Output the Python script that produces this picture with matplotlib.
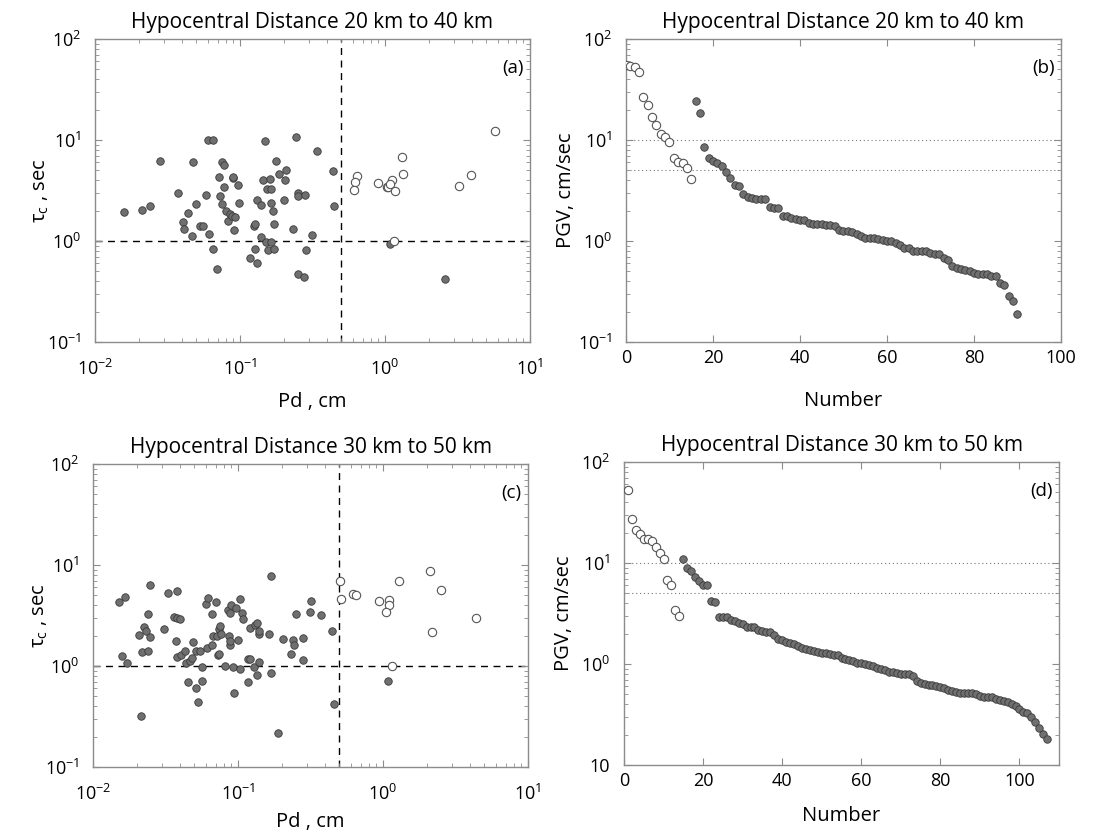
import numpy as np
import matplotlib
matplotlib.use('Agg')
import matplotlib.pyplot as plt
from matplotlib.ticker import LogLocator, NullFormatter, MultipleLocator

plt.rcParams['font.family'] = ['Open Sans', 'DejaVu Sans']
plt.rcParams['mathtext.fontset'] = 'custom'
plt.rcParams['mathtext.rm'] = 'Open Sans'
plt.rcParams['mathtext.it'] = 'Open Sans:italic'

# ---- data ----
# (a) 20-40 km : Pd (cm) vs tau_c (sec)
a_fill_pd = [0.0158, 0.0210, 0.0238, 0.0281, 0.0376, 0.0407, 0.0413, 0.0440, 0.0469, 0.0472,
             0.0497, 0.0527, 0.0558, 0.0586, 0.0598, 0.0611, 0.0648, 0.0651, 0.0694, 0.0720,
             0.0732, 0.0751, 0.0751, 0.0771, 0.0776, 0.0805, 0.0822, 0.0858, 0.0877, 0.0890,
             0.0899, 0.0904, 0.0924, 0.0968, 0.0984, 0.118, 0.124, 0.126, 0.127, 0.130,
             0.131, 0.140, 0.140, 0.143, 0.148, 0.150, 0.153, 0.155, 0.162, 0.163,
             0.164, 0.164, 0.168, 0.171, 0.172, 0.178, 0.187, 0.202, 0.204, 0.209,
             0.233, 0.243, 0.250, 0.250, 0.250, 0.341, 0.438, 0.282, 0.445, 0.312,
             0.284, 0.275, 1.08, 2.58]
a_fill_tc = [1.95, 2.03, 2.20, 6.24, 2.96, 1.54, 1.31, 1.88, 1.12, 6.01,
             2.31, 1.41, 1.41, 2.88, 9.93, 1.18, 0.84, 10.0, 0.532, 4.30,
             2.81, 6.01, 2.34, 3.40, 5.61, 1.97, 1.59, 1.84, 1.75, 4.17,
             4.30, 1.28, 1.74, 3.61, 2.40, 0.679, 1.40, 1.47, 0.84, 0.601,
             2.55, 2.25, 1.10, 4.02, 9.77, 0.977, 3.27, 0.814, 4.14, 0.977,
             3.27, 2.38, 1.98, 0.84, 1.47, 6.24, 4.57, 2.53, 4.05, 5.08,
             1.31, 10.6, 2.96, 2.81, 0.475, 7.78, 4.93, 2.88, 2.22, 1.16,
             0.814, 0.437, 0.941, 0.417]
a_open_pd = [0.644, 0.618, 0.615, 0.895, 1.04, 1.05, 1.11, 1.09, 1.18, 1.31,
             1.33, 1.16, 3.24, 3.94, 5.77]
a_open_tc = [4.40, 3.81, 3.17, 3.72, 3.40, 3.45, 4.05, 3.67, 3.10, 6.79,
             4.64, 1.01, 3.48, 4.47, 12.3]

# (b) 20-40 km : PGV (cm/sec), sorted, open first then filled
b_open_pgv = [55.9, 54.7, 52.6, 47.0, 26.9, 22.3, 17.1, 14.2, 11.5, 10.6,
              9.6, 6.7, 6.1, 5.9, 5.3, 4.07]
b_fill_pgv = [24.5, 18.7, 8.53, 6.60, 6.26, 5.98, 5.59, 4.88, 4.20, 3.61,
              3.53, 2.90, 2.75, 2.69, 2.63, 2.59, 2.59, 2.16, 2.13, 2.13,
              1.775, 1.775, 1.71, 1.66, 1.63, 1.60, 1.50, 1.49, 1.48, 1.48,
              1.45, 1.43, 1.41, 1.30, 1.27, 1.25, 1.24, 1.18, 1.11, 1.07,
              1.07, 1.06, 1.05, 1.02, 1.01, 1.01, 0.948, 0.913, 0.853, 0.853,
              0.797, 0.791, 0.791, 0.790, 0.768, 0.750, 0.745, 0.680, 0.655, 0.560,
              0.535, 0.523, 0.511, 0.507, 0.484, 0.470, 0.470, 0.470, 0.453, 0.449,
              0.383, 0.364, 0.286, 0.253, 0.190]

# (c) 30-50 km : Pd (cm) vs tau_c (sec)
c_fill_pd = [0.0152, 0.0158, 0.0165, 0.0171, 0.0208, 0.0215, 0.0217, 0.0225, 0.0233, 0.0238,
             0.0239, 0.0247, 0.0248, 0.0309, 0.0327, 0.0364, 0.0376, 0.0380, 0.0380, 0.0382,
             0.0400, 0.0405, 0.0429, 0.0436, 0.0450, 0.0464, 0.0484, 0.0492, 0.0513, 0.0516,
             0.0527, 0.0550, 0.0561, 0.0561, 0.0598, 0.0615, 0.0624, 0.0658, 0.0665, 0.0668,
             0.0709, 0.0720, 0.0724, 0.0736, 0.0744, 0.0751, 0.0767, 0.0809, 0.0858, 0.0862,
             0.0877, 0.0881, 0.0885, 0.0890, 0.0924, 0.0933, 0.0964, 0.0995, 0.103, 0.103,
             0.107, 0.109, 0.117, 0.117, 0.120, 0.120, 0.128, 0.130, 0.136, 0.136,
             0.139, 0.139, 0.140, 0.164, 0.168, 0.169, 0.189, 0.203, 0.231, 0.239,
             0.242, 0.252, 0.279, 0.279, 0.319, 0.312, 0.372, 0.443, 0.457, 1.09]
c_fill_tc = [4.27, 1.27, 4.82, 1.07, 2.03, 0.322, 1.39, 2.43, 2.20, 3.25,
             1.41, 6.34, 1.92, 2.34, 5.32, 3.08, 1.78, 5.53, 2.99, 1.22,
             2.90, 1.29, 1.42, 1.08, 0.689, 1.11, 1.21, 1.73, 1.41, 0.610,
             0.440, 1.41, 0.970, 0.705, 4.11, 1.51, 4.71, 3.27, 1.63, 1.98,
             4.30, 2.00, 1.29, 1.32, 2.34, 2.51, 2.09, 0.99, 3.59, 2.00,
             3.32, 1.61, 1.77, 4.02, 0.977, 0.540, 3.75, 1.82, 0.934, 4.61,
             3.32, 2.90, 0.689, 1.18, 1.18, 2.40, 0.985, 2.55, 2.67, 0.821,
             2.06, 1.10, 2.22, 2.06, 7.78, 0.846, 0.217, 1.87, 1.32, 1.82,
             1.61, 3.25, 1.91, 1.16, 4.43, 3.40, 3.17, 2.24, 0.424, 0.716]
c_open_pd = [0.502, 0.511, 0.621, 0.655, 0.944, 1.10, 1.10, 1.05, 1.15, 1.29,
             2.10, 2.50, 2.19, 4.36]
c_open_tc = [6.95, 4.57, 5.12, 5.08, 4.40, 4.54, 4.05, 3.43, 1.01, 6.89,
             8.72, 5.65, 2.15, 3.01]

# (d) 30-50 km : PGV (cm/sec)
d_open_pgv = [53.2, 27.3, 21.4, 19.2, 17.4, 17.4, 16.5, 14.4, 12.6, 11.0,
              6.79, 6.01, 3.45, 3.01]
d_fill_pgv = [10.9, 9.0, 8.4, 7.3, 6.6, 6.0, 6.0, 4.17, 4.11, 2.94,
              2.94, 2.90, 2.75, 2.67, 2.53, 2.47, 2.34, 2.34, 2.32, 2.15,
              2.12, 2.07, 2.06, 1.94, 1.78, 1.71, 1.65, 1.60, 1.57, 1.50,
              1.43, 1.41, 1.37, 1.35, 1.32, 1.29, 1.29, 1.25, 1.24, 1.24,
              1.15, 1.13, 1.10, 1.06, 1.03, 1.015, 1.00, 0.977, 0.948, 0.906,
              0.885, 0.866, 0.839, 0.839, 0.821, 0.802, 0.790, 0.790, 0.755, 0.679,
              0.644, 0.629, 0.620, 0.620, 0.610, 0.597, 0.574, 0.557, 0.545, 0.532,
              0.520, 0.520, 0.516, 0.513, 0.501, 0.486, 0.475, 0.468, 0.468, 0.454,
              0.443, 0.430, 0.417, 0.399, 0.387, 0.355, 0.332, 0.325, 0.299, 0.264,
              0.232, 0.204, 0.182]

titles = ['Hypocentral Distance 20 km to 40 km', 'Hypocentral Distance 30 km to 50 km']

# ---- styling ----
FILL = dict(marker='o', ls='none', ms=5.4, mfc='#6f6f6f', mec='#3a3a3a', mew=0.6)
OPEN = dict(marker='o', ls='none', ms=6.0, mfc='white', mec='#555555', mew=0.8)
SPINE = '#8c8c8c'


def style(ax):
    for s in ax.spines.values():
        s.set_color(SPINE)
        s.set_linewidth(1.0)
    ax.tick_params(which='both', direction='in', top=True, right=True,
                   colors=SPINE, labelcolor='black', labelsize=13)
    ax.tick_params(which='major', length=5)
    ax.tick_params(which='minor', length=3)
    ax.set_yscale('log')
    ax.set_ylim(0.1, 100)
    ax.yaxis.set_minor_locator(LogLocator(base=10, subs=np.arange(2, 10)))
    ax.yaxis.set_minor_formatter(NullFormatter())
    ax.tick_params(axis='y', pad=10)


fig = plt.figure(figsize=(10.93, 8.31), dpi=100)
axa = fig.add_axes([0.0869, 0.5884, 0.398, 0.3646])
axb = fig.add_axes([0.5727, 0.5884, 0.398, 0.3646])
axc = fig.add_axes([0.0851, 0.0770, 0.398, 0.3646])
axd = fig.add_axes([0.5709, 0.0794, 0.398, 0.3646])

# scatter panels
for ax, fp, ft, op, ot, title, tag, ylab in [
        (axa, a_fill_pd, a_fill_tc, a_open_pd, a_open_tc, titles[0], '(a)', -0.165),
        (axc, c_fill_pd, c_fill_tc, c_open_pd, c_open_tc, titles[1], '(c)', -0.15)]:
    style(ax)
    ax.set_xscale('log')
    ax.set_xlim(0.01, 10)
    ax.xaxis.set_minor_locator(LogLocator(base=10, subs=np.arange(2, 10)))
    ax.xaxis.set_minor_formatter(NullFormatter())
    ax.tick_params(axis='x', pad=12)
    ax.axhline(1, color='black', ls=(0, (5, 4)), lw=1.0, zorder=1)
    ax.axvline(0.5, color='black', ls=(0, (5, 4)), lw=1.0, zorder=1)
    ax.plot(fp, ft, **FILL, zorder=3)
    ax.plot(op, ot, **OPEN, zorder=3)
    ax.set_title(title, fontsize=15, pad=8)
    ax.set_xlabel('Pd , cm', fontsize=14.5)
    ax.set_ylabel(r'τ$_\mathregular{c}$ , sec', fontsize=14.5)
    ax.xaxis.set_label_coords(0.5, ylab)
    ax.yaxis.set_label_coords(-0.1, 0.5)
    ax.text(0.985, 0.905, tag, transform=ax.transAxes, ha='right', va='center', fontsize=13.5)

# PGV panels
for ax, opv, fpv, x0, xmax, title, tag, ylab in [
        (axb, b_open_pgv, b_fill_pgv, 0, 100, titles[0], '(b)', -0.16),
        (axd, d_open_pgv, d_fill_pgv, 1, 110, titles[1], '(d)', -0.135)]:
    style(ax)
    n_open = len(opv)
    n_all = n_open + len(fpv)
    ax.set_xlim(0, xmax)
    ax.xaxis.set_major_locator(MultipleLocator(20))
    ax.tick_params(axis='x', pad=5)
    for lvl in [10, 5]:
        ax.axhline(lvl, color='#777777', ls=(0, (1, 2.5)), lw=0.8, zorder=1)
    ax.plot(np.arange(x0, x0 + n_open), opv, **OPEN, zorder=3)
    ax.plot(np.arange(x0 + n_open, x0 + n_all), fpv, **FILL, zorder=3)
    ax.set_title(title, fontsize=15, pad=8)
    ax.set_xlabel('Number', fontsize=14.5)
    ax.set_ylabel('PGV, cm/sec', fontsize=14.5)
    ax.xaxis.set_label_coords(0.5, ylab)
    ax.yaxis.set_label_coords(-0.115, 0.5)
    ax.text(0.985, 0.905, tag, transform=ax.transAxes, ha='right', va='center', fontsize=13.5)

axd.set_yticks([0.1, 1, 10, 100],
               labels=['10', r'$\mathdefault{10^{0}}$', r'$\mathdefault{10^{1}}$', r'$\mathdefault{10^{2}}$'])

fig.savefig('out.png', dpi=100)
